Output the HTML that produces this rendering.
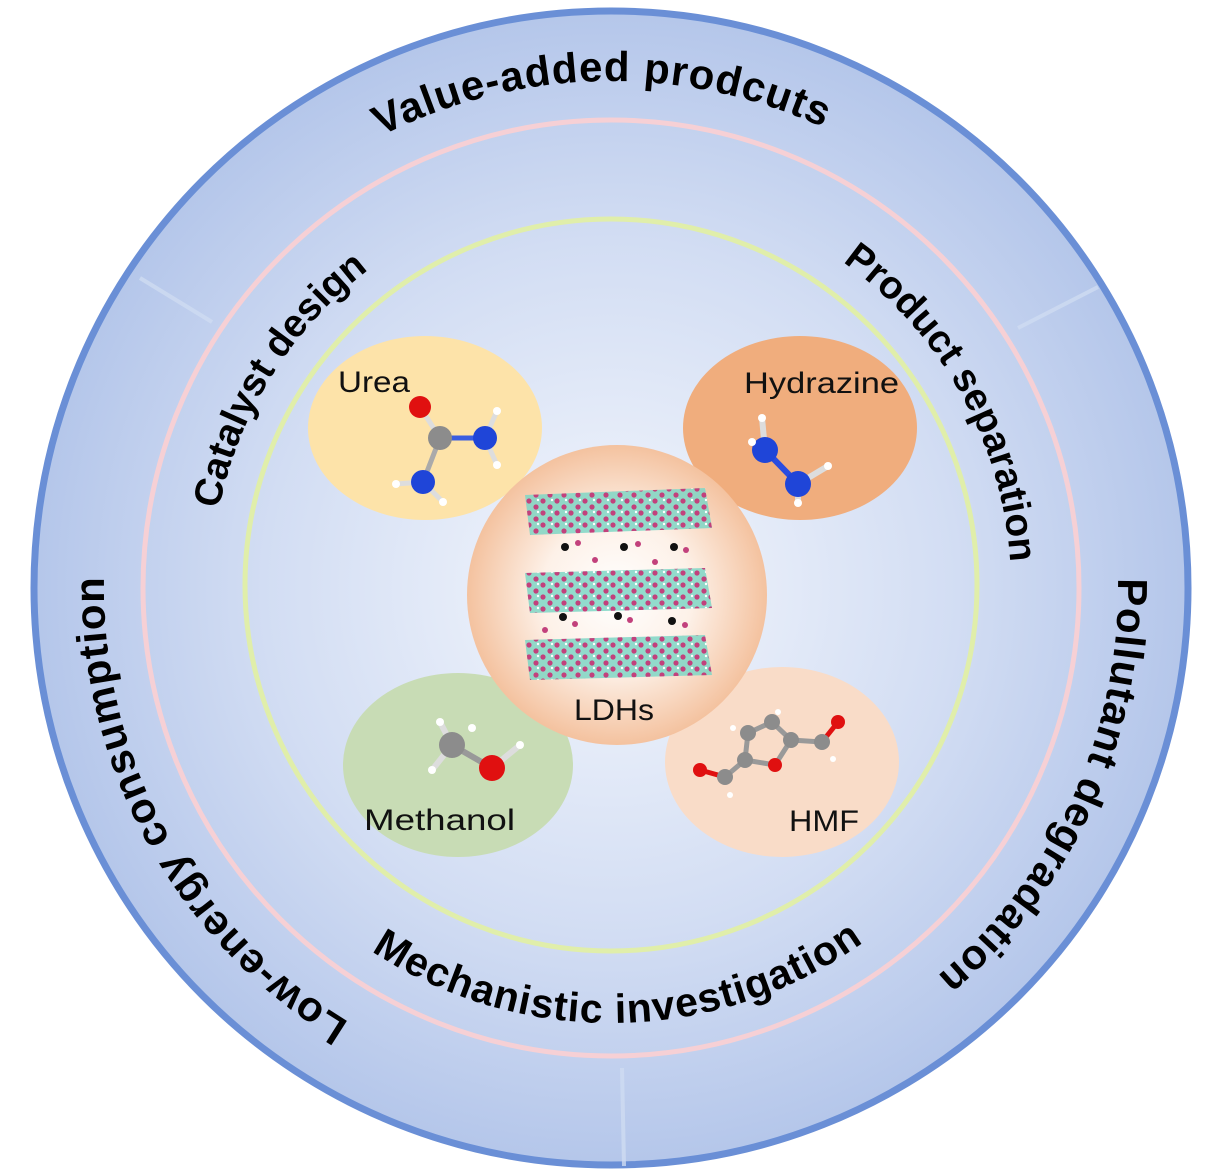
<!DOCTYPE html>
<html><head><meta charset="utf-8"><style>
html,body{margin:0;padding:0;background:#fff;}
svg{display:block;}
</style></head><body>
<svg width="1223" height="1173" viewBox="0 0 1223 1173" xmlns="http://www.w3.org/2000/svg">
<defs>
<radialGradient id="bg" cx="611" cy="588" r="580" gradientUnits="userSpaceOnUse">
<stop offset="0" stop-color="#f4f7fd"/><stop offset="0.6" stop-color="#d2ddf3"/><stop offset="1" stop-color="#b4c6ea"/>
</radialGradient>
<radialGradient id="ldh" cx="617" cy="595" r="150" gradientUnits="userSpaceOnUse">
<stop offset="0" stop-color="#ffffff"/><stop offset="0.5" stop-color="#fdf1e8"/><stop offset="1" stop-color="#f4c29f"/>
</radialGradient>
<pattern id="dots" width="14" height="12" patternUnits="userSpaceOnUse">
<circle cx="4" cy="3" r="2.6" fill="#c2417c"/><circle cx="11" cy="9" r="2.6" fill="#c2417c"/><circle cx="6" cy="8" r="1.2" fill="#fff"/>
</pattern>
<path id="cwO" d="M611,1095 A507,507 0 1 1 611,81 A507,507 0 1 1 611,1095"/>
<path id="cwI" d="M611,988 A400,400 0 1 1 611,188 A400,400 0 1 1 611,988"/>
<path id="ccwI" d="M611,153 A435,435 0 1 0 611,1023 A435,435 0 1 0 611,153"/>
</defs>
<circle cx="611" cy="588" r="577" fill="url(#bg)" stroke="#6a8fd6" stroke-width="7"/>
<g stroke="#cfdcf2" stroke-width="4" opacity="0.8">
<line x1="140" y1="278" x2="212" y2="322"/>
<line x1="1018" y1="328" x2="1098" y2="287"/>
<line x1="622" y1="1068" x2="624" y2="1166"/>
</g>
<circle cx="611" cy="588" r="468" fill="none" stroke="#f6d0d5" stroke-width="5"/>
<circle cx="611" cy="585" r="366" fill="none" stroke="#e0eeaa" stroke-width="5"/>

<g font-family="Liberation Sans, sans-serif" font-weight="bold" font-size="42" fill="#000">
<text letter-spacing="1"><textPath href="#cwO" startOffset="49.7%" text-anchor="middle">Value-added prodcuts</textPath></text>
<text letter-spacing="1"><textPath href="#cwO" startOffset="81.8%" text-anchor="middle">Pollutant degradation</textPath></text>
<text letter-spacing="1"><textPath href="#cwO" startOffset="17.0%" text-anchor="middle">Low-energy consumption</textPath></text>
<text font-size="39"><textPath href="#cwI" startOffset="33.9%" text-anchor="middle">Catalyst design</textPath></text>
<text font-size="39"><textPath href="#cwI" startOffset="66.9%" text-anchor="middle">Product separation</textPath></text>
<text font-size="41" letter-spacing="1"><textPath href="#ccwI" startOffset="50.3%" text-anchor="middle">Mechanistic investigation</textPath></text>
</g>

<ellipse cx="425" cy="428" rx="117" ry="92" fill="#fde3a9"/>
<ellipse cx="800" cy="428" rx="117" ry="92" fill="#f0ad7d"/>
<ellipse cx="458" cy="765" rx="115" ry="92" fill="#c8dcb5"/>
<ellipse cx="782" cy="762" rx="117" ry="95" fill="#f9dcc8"/>
<circle cx="617" cy="595" r="150" fill="url(#ldh)"/>

<g>
<polygon points="525,495 705,488 712,528 530,535" fill="#7fd6c6" opacity="0.85"/>
<polygon points="525,495 705,488 712,528 530,535" fill="url(#dots)"/>
<polygon points="525,573 705,568 712,608 530,613" fill="#7fd6c6" opacity="0.85"/>
<polygon points="525,573 705,568 712,608 530,613" fill="url(#dots)"/>
<polygon points="525,640 705,635 712,675 530,680" fill="#7fd6c6" opacity="0.85"/>
<polygon points="525,640 705,635 712,675 530,680" fill="url(#dots)"/>
<g fill="#111"><circle cx="565" cy="547" r="4"/><circle cx="624" cy="547" r="4"/><circle cx="674" cy="547" r="4"/><circle cx="563" cy="617" r="4"/><circle cx="618" cy="616" r="4"/><circle cx="672" cy="621" r="4"/></g>
<g fill="#c2417c"><circle cx="578" cy="543" r="3"/><circle cx="638" cy="544" r="3"/><circle cx="686" cy="550" r="3"/><circle cx="595" cy="560" r="3"/><circle cx="655" cy="562" r="3"/><circle cx="575" cy="624" r="3"/><circle cx="630" cy="620" r="3"/><circle cx="685" cy="625" r="3"/><circle cx="545" cy="630" r="3"/></g>
</g>

<g stroke-width="5">
<line x1="420" y1="407" x2="440" y2="438" stroke="#ddd"/>
<line x1="440" y1="438" x2="485" y2="438" stroke="#3a5de0"/>
<line x1="440" y1="438" x2="423" y2="482" stroke="#aaa"/>
<line x1="485" y1="438" x2="497" y2="411" stroke="#ddd"/>
<line x1="485" y1="438" x2="497" y2="465" stroke="#ddd"/>
<line x1="423" y1="482" x2="396" y2="484" stroke="#ddd"/>
<line x1="423" y1="482" x2="443" y2="502" stroke="#ddd"/>
</g>
<circle cx="420" cy="407" r="11" fill="#e01010"/>
<circle cx="440" cy="438" r="12" fill="#8c8c8c"/>
<circle cx="485" cy="438" r="12" fill="#1f45d8"/>
<circle cx="423" cy="482" r="12" fill="#1f45d8"/>
<g fill="#fff"><circle cx="497" cy="411" r="4"/><circle cx="497" cy="465" r="4"/><circle cx="396" cy="484" r="4"/><circle cx="443" cy="502" r="4"/></g>

<g stroke-width="6"><line x1="765" y1="450" x2="798" y2="484" stroke="#2a4ce0"/><line x1="765" y1="450" x2="762" y2="418" stroke="#ddd"/><line x1="798" y1="484" x2="828" y2="466" stroke="#ddd"/><line x1="798" y1="484" x2="798" y2="503" stroke="#ddd"/></g>
<circle cx="765" cy="450" r="13" fill="#1f45d8"/><circle cx="798" cy="484" r="13" fill="#1f45d8"/>
<g fill="#fff"><circle cx="762" cy="418" r="4"/><circle cx="828" cy="466" r="4"/><circle cx="798" cy="503" r="4"/><circle cx="752" cy="442" r="4"/></g>

<g stroke-width="6"><line x1="452" y1="745" x2="492" y2="768" stroke="#999"/><line x1="492" y1="768" x2="520" y2="745" stroke="#ddd"/><line x1="452" y1="745" x2="432" y2="770" stroke="#ddd"/><line x1="452" y1="745" x2="440" y2="722" stroke="#ddd"/></g>
<circle cx="452" cy="745" r="13" fill="#8c8c8c"/><circle cx="492" cy="768" r="13" fill="#e01010"/>
<g fill="#fff"><circle cx="520" cy="745" r="4"/><circle cx="432" cy="770" r="4"/><circle cx="440" cy="722" r="4"/><circle cx="472" cy="728" r="4"/></g>

<g stroke="#999" stroke-width="5">
<polyline points="745,760 748,733 772,722 791,740 775,765 745,760" fill="none"/>
<line x1="791" y1="740" x2="822" y2="742"/><line x1="822" y1="742" x2="838" y2="722" stroke="#e01010"/>
<line x1="745" y1="760" x2="725" y2="777"/><line x1="725" y1="777" x2="700" y2="770" stroke="#e01010"/>
</g>
<g fill="#8c8c8c"><circle cx="745" cy="760" r="8"/><circle cx="748" cy="733" r="8"/><circle cx="772" cy="722" r="8"/><circle cx="791" cy="740" r="8"/><circle cx="822" cy="742" r="8"/><circle cx="725" cy="777" r="8"/></g>
<circle cx="775" cy="765" r="7" fill="#e01010"/><circle cx="838" cy="722" r="7" fill="#e01010"/><circle cx="700" cy="770" r="7" fill="#e01010"/>
<g fill="#fff"><circle cx="733" cy="728" r="3"/><circle cx="778" cy="712" r="3"/><circle cx="833" cy="759" r="3"/><circle cx="730" cy="795" r="3"/></g>

<g font-family="Liberation Sans, sans-serif" font-size="30" fill="#111">
<text x="338" y="392" textLength="72" lengthAdjust="spacingAndGlyphs">Urea</text>
<text x="744" y="393" textLength="155" lengthAdjust="spacingAndGlyphs">Hydrazine</text>
<text x="364" y="830" textLength="151" lengthAdjust="spacingAndGlyphs">Methanol</text>
<text x="789" y="831" textLength="70" lengthAdjust="spacingAndGlyphs">HMF</text>
<text x="574" y="720" textLength="80" lengthAdjust="spacingAndGlyphs">LDHs</text>
</g>
</svg>
</body></html>
